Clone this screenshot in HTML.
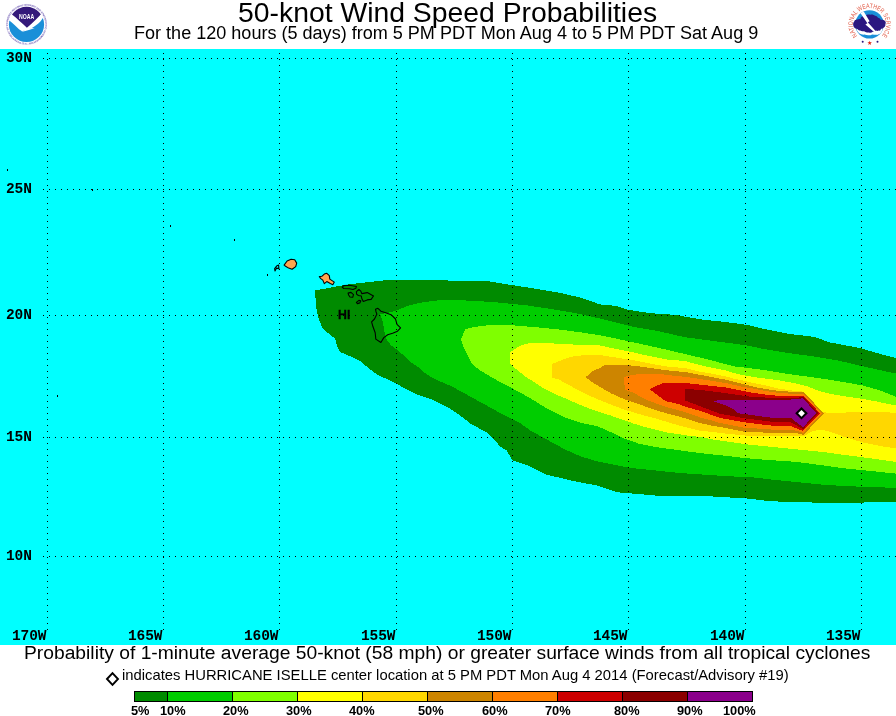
<!DOCTYPE html>
<html><head><meta charset="utf-8"><title>50-knot Wind Speed Probabilities</title>
<style>
html,body{margin:0;padding:0;background:#fff;}
body{width:896px;height:716px;position:relative;overflow:hidden;font-family:"Liberation Sans",sans-serif;color:#000;}
.t,.g,.lg{will-change:transform;}
.t{position:absolute;white-space:nowrap;line-height:1;}
#map{position:absolute;left:0;top:0;width:896px;height:716px;}
.g{position:absolute;white-space:nowrap;line-height:1;font:bold 14.5px "Liberation Mono",monospace;letter-spacing:-0.1px;}
.lg{position:absolute;white-space:nowrap;line-height:1;font:bold 12.8px "Liberation Sans",sans-serif;top:703px;}
</style></head><body>
<svg id="map" width="896" height="716" viewBox="0 0 896 716" shape-rendering="crispEdges">
<rect x="0" y="49" width="896" height="596" fill="#00FFFF"/>
<polygon points="284.1,265.1 287.1,261.0 291.1,259.2 294.7,259.8 296.7,263.1 295.7,266.6 292.1,269.3 288.6,268.1 285.6,266.3" fill="#FFA54F"/>
<polygon points="319.3,276.6 321.8,276.3 324.3,274.1 326.8,273.3 329.3,275.6 329.8,279.1 334.3,282.1 332.8,284.7 330.3,283.6 326.8,281.6 324.3,283.6 322.8,280.1 320.8,278.6" fill="#FFA54F"/>
<polygon points="315.0,290.2 325.3,288.7 335.3,286.7 343.4,285.2 350.0,284.2 369.1,282.0 388.7,279.9 400.5,279.6 425.7,279.6 450.0,280.6 488.5,281.2 512.0,285.1 533.8,288.4 558.9,292.6 580.7,297.7 600.0,304.4 616.8,306.0 628.5,309.9 650.3,313.2 675.4,314.9 700.6,319.4 725.7,322.0 748.0,325.0 762.8,328.7 787.9,333.7 814.7,337.0 829.8,342.4 861.6,348.4 876.7,353.0 896.0,358.0 896.0,501.6 876.7,502.1 861.6,502.6 814.7,502.6 771.1,501.3 747.0,498.5 721.9,497.0 696.8,495.6 680.0,496.0 655.7,495.6 638.9,494.0 617.1,492.3 597.0,485.6 571.9,480.6 546.8,474.7 530.0,466.3 520.8,463.0 512.4,460.4 506.5,450.4 500.7,447.0 495.6,441.2 487.3,432.8 470.5,423.6 458.8,414.4 447.0,406.8 433.6,400.1 418.5,395.1 401.8,386.7 390.0,380.3 378.8,375.6 370.4,369.7 360.3,361.3 350.3,356.3 340.2,352.1 337.2,346.3 335.2,338.7 330.0,334.7 322.6,328.7 319.3,320.3 316.8,311.9 315.9,303.5" fill="#008B00"/>
<polygon points="380.4,314.2 388.7,312.7 398.5,309.7 407.3,306.0 420.7,302.7 434.1,300.7 450.0,299.8 476.8,301.0 500.3,302.7 525.4,305.2 550.6,308.9 575.7,313.2 600.0,318.6 616.8,322.8 633.5,327.0 658.7,331.2 683.8,337.0 708.9,340.4 734.1,343.7 748.0,345.6 762.8,348.8 787.9,353.0 813.0,356.3 838.2,360.5 863.3,366.4 880.1,370.2 896.0,373.5 896.0,487.9 871.7,487.0 846.6,486.2 821.4,484.5 796.3,482.0 771.1,479.5 750.0,477.0 730.3,476.4 705.1,474.7 680.0,473.0 655.7,470.5 630.6,468.0 613.8,464.6 597.0,461.3 580.3,456.3 563.5,448.7 546.8,439.5 530.0,430.3 520.8,423.6 505.7,416.0 488.9,406.8 472.2,397.6 455.4,388.4 450.0,385.6 444.1,383.1 434.1,378.9 424.0,372.2 417.3,366.4 410.6,362.2 403.9,355.5 393.8,347.1 390.6,345.0 386.2,338.6 384.8,333.7 383.8,327.8 382.8,322.0" fill="#00CD00"/>
<polygon points="460.9,339.5 465.1,329.5 473.5,327.0 490.2,325.0 512.0,325.3 533.8,327.0 558.9,329.5 584.1,332.8 600.0,335.4 616.8,338.7 633.5,342.4 658.7,347.9 683.8,353.8 708.9,359.7 734.1,366.4 748.0,368.0 762.8,369.8 779.5,372.6 796.3,375.2 813.0,377.3 829.8,379.8 846.6,382.6 863.3,385.6 880.0,390.5 896.0,396.8 896.0,473.6 871.7,471.1 846.6,468.6 821.4,465.2 796.3,461.9 771.1,460.2 746.0,458.2 730.3,456.3 705.1,453.7 680.0,450.4 655.7,447.0 638.9,443.7 622.2,437.8 610.4,431.9 597.0,426.1 580.3,422.7 563.5,416.9 546.8,408.5 530.0,398.0 512.4,388.4 503.6,384.0 491.9,377.3 480.2,370.6 471.8,363.9 468.4,357.1 463.4,347.1" fill="#7FFF00"/>
<polygon points="509.5,353.0 517.0,347.4 525.4,343.7 537.1,342.9 558.9,343.7 584.1,345.1 600.0,345.5 611.2,347.9 622.3,350.1 633.5,352.3 644.6,355.1 655.8,357.3 667.0,359.6 685.0,361.0 700.0,365.1 711.2,367.6 725.0,370.2 733.5,373.0 744.6,375.5 755.8,377.3 767.0,378.8 778.1,380.2 789.3,382.2 800.0,384.4 807.0,386.2 818.0,390.6 829.6,393.8 843.0,396.1 861.8,398.8 876.6,401.5 896.0,405.5 896.0,461.9 871.7,458.5 846.6,455.2 821.4,451.8 796.3,449.3 771.1,446.8 746.0,444.3 730.3,442.0 713.5,439.5 700.0,436.9 689.3,435.8 678.1,434.1 667.0,432.5 655.8,429.7 644.6,426.9 633.5,423.5 622.3,419.6 611.2,415.7 600.0,412.2 589.3,408.5 578.1,404.1 567.0,399.1 555.8,394.6 544.6,389.0 533.5,381.8 525.7,376.7 516.7,369.5 510.6,364.5" fill="#FFFF00"/>
<polygon points="552.2,363.9 562.0,360.0 570.7,356.8 584.1,355.1 600.0,355.0 611.2,356.8 622.3,358.5 633.5,360.1 644.6,362.4 655.8,364.6 667.0,366.5 685.0,368.1 700.0,371.8 711.2,373.5 725.0,376.2 733.5,378.5 744.6,380.9 755.8,383.5 767.0,385.7 778.1,388.5 789.3,390.2 803.6,391.7 822.0,411.5 829.3,413.5 836.3,413.2 849.7,412.2 869.9,412.2 896.0,412.6 896.0,448.5 880.1,446.0 863.3,442.6 846.6,437.6 829.8,431.7 821.4,429.7 813.0,430.9 804.0,436.0 780.0,436.0 745.0,435.5 720.0,433.0 713.7,432.0 700.0,430.8 689.3,428.0 678.1,425.2 667.0,421.9 655.8,418.5 644.6,415.7 633.5,412.4 622.3,409.0 611.2,404.6 600.0,400.2 589.3,395.7 578.1,390.1 567.0,384.0 558.0,379.0 552.2,377.9" fill="#FFD700"/>
<polygon points="585.4,377.3 592.5,371.4 600.0,367.8 605.0,365.2 627.9,365.2 639.0,366.3 650.2,367.9 661.4,369.6 672.5,371.0 685.0,372.0 700.0,374.8 725.0,379.6 744.6,384.4 755.8,387.2 767.0,389.3 780.0,391.0 795.0,392.0 803.6,392.2 823.9,413.3 803.5,434.9 796.0,433.1 775.0,433.0 745.0,431.8 720.0,427.0 713.7,426.0 700.0,423.0 689.3,419.6 678.1,416.3 667.0,413.5 655.8,410.1 644.6,406.2 633.5,402.3 622.3,398.4 611.2,393.4 600.0,387.0 592.6,382.3" fill="#CD8500"/>
<polygon points="623.5,377.3 633.5,374.6 644.6,374.1 661.4,374.1 672.5,375.6 685.0,376.8 700.0,379.0 725.0,382.9 744.6,387.2 755.8,389.0 767.0,391.3 780.0,393.0 795.0,393.9 803.6,394.0 821.8,413.2 803.3,432.9 794.0,430.1 775.0,430.0 768.0,429.2 745.0,427.8 720.0,423.0 713.7,421.0 700.0,417.4 689.3,413.5 678.1,410.1 667.0,407.3 655.8,403.4 644.6,399.0 633.5,392.8 625.1,390.0" fill="#FF7F00"/>
<polygon points="649.7,389.2 662.5,383.1 678.1,382.6 685.0,382.9 700.0,384.6 725.0,387.4 750.0,392.3 767.9,395.0 780.0,395.9 803.6,395.9 820.0,413.2 803.0,431.0 791.0,426.1 775.0,426.0 768.0,425.2 745.0,422.4 720.0,418.0 700.0,410.7 689.3,407.9 678.1,404.0 665.8,401.2 658.0,395.6" fill="#CD0000"/>
<polygon points="685.2,389.0 700.0,389.9 725.0,393.0 750.0,396.6 770.0,397.8 795.0,397.9 803.5,397.0 818.3,413.2 803.0,429.1 790.5,422.1 775.0,422.0 768.0,421.3 745.0,418.4 720.0,413.7 708.8,409.6 700.0,406.2 685.4,400.6" fill="#8B0000"/>
<polygon points="713.4,401.3 721.0,399.6 745.0,399.8 791.0,399.8 792.0,399.0 803.0,398.4 816.4,413.2 803.0,427.2 791.0,418.1 775.0,418.0 768.0,417.3 756.7,415.7 745.0,414.1 738.2,413.3 733.3,409.3 725.9,405.6" fill="#8B008B"/>
<g fill="none" stroke="#000" stroke-width="1.1" shape-rendering="auto" stroke-linejoin="round">
<polygon points="284.1,265.1 287.1,261.0 291.1,259.2 294.7,259.8 296.7,263.1 295.7,266.6 292.1,269.3 288.6,268.1 285.6,266.3"/>
<polygon points="274.6,268.6 276.6,266.1 278.6,265.1 278.9,268.6 276.6,268.1 275.0,271.0"/>
<polygon points="319.3,276.6 321.8,276.3 324.3,274.1 326.8,273.3 329.3,275.6 329.8,279.1 334.3,282.1 332.8,284.7 330.3,283.6 326.8,281.6 324.3,283.6 322.8,280.1 320.8,278.6"/>
<polygon points="342.2,287.2 343.7,285.6 349.6,285.3 356.4,286.5 355.9,288.2 353.0,289.5 349.6,288.7 343.7,288.5"/>
<polygon points="348.1,293.1 351.0,292.4 353.5,294.6 352.7,297.3 350.0,297.0 348.6,295.0"/>
<polygon points="356.4,291.6 358.9,289.5 360.8,291.1 361.8,293.6 367.2,292.6 373.5,296.0 371.1,299.4 367.2,299.9 363.3,301.4 361.8,298.5 361.3,296.0 358.4,295.5 356.6,294.1"/>
<polygon points="356.4,302.4 358.9,300.4 360.8,300.9 359.8,302.9 357.4,303.6"/>
<polygon points="375.5,309.2 377.9,308.3 380.9,311.2 385.7,312.7 391.6,315.1 395.5,319.0 397.0,324.4 400.6,327.8 397.5,331.2 392.6,333.2 387.7,334.7 383.8,337.6 380.9,342.5 375.8,339.1 375.2,332.7 373.0,326.8 371.6,321.9 374.5,319.0 376.9,314.1 376.0,311.7"/>
</g>
<rect x="7" y="169" width="1" height="2" fill="#000"/>
<rect x="57" y="395" width="1" height="2" fill="#000"/>
<rect x="234" y="239" width="1" height="2" fill="#000"/>
<rect x="170" y="225" width="1" height="2" fill="#000"/>
<rect x="267" y="274" width="1" height="2" fill="#000"/>
<rect x="92" y="189" width="1" height="2" fill="#000"/>
<g stroke="#000" stroke-width="1" fill="none">
<line x1="43" y1="58.5" x2="896" y2="58.5" stroke-dasharray="1 5"/>
<line x1="43" y1="189.5" x2="896" y2="189.5" stroke-dasharray="1 5"/>
<line x1="43" y1="315.5" x2="896" y2="315.5" stroke-dasharray="1 5"/>
<line x1="43" y1="437.5" x2="896" y2="437.5" stroke-dasharray="1 5"/>
<line x1="43" y1="556.5" x2="896" y2="556.5" stroke-dasharray="1 5"/>
<line x1="47.5" y1="53" x2="47.5" y2="630" stroke-dasharray="1 5"/>
<line x1="163.5" y1="53" x2="163.5" y2="630" stroke-dasharray="1 5"/>
<line x1="279.5" y1="53" x2="279.5" y2="630" stroke-dasharray="1 5"/>
<line x1="396.5" y1="53" x2="396.5" y2="630" stroke-dasharray="1 5"/>
<line x1="512.5" y1="53" x2="512.5" y2="630" stroke-dasharray="1 5"/>
<line x1="628.5" y1="53" x2="628.5" y2="630" stroke-dasharray="1 5"/>
<line x1="745.5" y1="53" x2="745.5" y2="630" stroke-dasharray="1 5"/>
<line x1="861.5" y1="53" x2="861.5" y2="630" stroke-dasharray="1 5"/>
</g>
<polygon points="795.2,413.3 801.5,407.0 807.8,413.3 801.5,419.6" fill="#000" shape-rendering="auto"/>
<polygon points="798.1,413.3 801.5,409.90000000000003 804.9,413.3 801.5,416.7" fill="#fff" shape-rendering="auto"/>
<polygon points="107.0,679 112.5,673.2 118.0,679 112.5,684.8" fill="#fff" stroke="#000" stroke-width="1.9" shape-rendering="auto"/>
<rect x="134" y="691" width="33" height="11" fill="#008B00"/>
<rect x="167" y="691" width="65" height="11" fill="#00CD00"/>
<rect x="232" y="691" width="65" height="11" fill="#7FFF00"/>
<rect x="297" y="691" width="65" height="11" fill="#FFFF00"/>
<rect x="362" y="691" width="65" height="11" fill="#FFD700"/>
<rect x="427" y="691" width="65" height="11" fill="#CD8500"/>
<rect x="492" y="691" width="65" height="11" fill="#FF7F00"/>
<rect x="557" y="691" width="65" height="11" fill="#CD0000"/>
<rect x="622" y="691" width="65" height="11" fill="#8B0000"/>
<rect x="687" y="691" width="66" height="11" fill="#8B008B"/>
<g stroke="#000" stroke-width="1" fill="none">
<rect x="134.5" y="691.5" width="618" height="10"/>
<line x1="167.5" y1="691" x2="167.5" y2="702"/>
<line x1="232.5" y1="691" x2="232.5" y2="702"/>
<line x1="297.5" y1="691" x2="297.5" y2="702"/>
<line x1="362.5" y1="691" x2="362.5" y2="702"/>
<line x1="427.5" y1="691" x2="427.5" y2="702"/>
<line x1="492.5" y1="691" x2="492.5" y2="702"/>
<line x1="557.5" y1="691" x2="557.5" y2="702"/>
<line x1="622.5" y1="691" x2="622.5" y2="702"/>
<line x1="687.5" y1="691" x2="687.5" y2="702"/>
</g>
</svg>
<div class="t" style="left:338px;top:307.5px;font:bold 12.3px 'Liberation Sans',sans-serif;-webkit-text-stroke:0.3px #000;">HI</div>
<div class="g" style="left:5.5px;top:50px;">30N</div>
<div class="g" style="left:5.5px;top:181px;">25N</div>
<div class="g" style="left:5.5px;top:307px;">20N</div>
<div class="g" style="left:5.5px;top:429px;">15N</div>
<div class="g" style="left:5.5px;top:548px;">10N</div>
<div class="g" style="left:12.299999999999997px;top:627.5px;">170W</div>
<div class="g" style="left:128.3px;top:627.5px;">165W</div>
<div class="g" style="left:244.3px;top:627.5px;">160W</div>
<div class="g" style="left:361.3px;top:627.5px;">155W</div>
<div class="g" style="left:477.3px;top:627.5px;">150W</div>
<div class="g" style="left:593.3px;top:627.5px;">145W</div>
<div class="g" style="left:710.3px;top:627.5px;">140W</div>
<div class="g" style="left:826.3px;top:627.5px;">135W</div>
<div class="t" id="t1" style="left:237.5px;top:-2px;font-size:28.35px;">50-knot Wind Speed Probabilities</div>
<div class="t" id="t2" style="left:134px;top:24px;font-size:18.06px;">For the 120 hours (5 days) from 5 PM PDT Mon Aug 4 to 5 PM PDT Sat Aug 9</div>
<div class="t" id="t3" style="left:24px;top:643px;font-size:19.25px;">Probability of 1-minute average 50-knot (58 mph) or greater surface winds from all tropical cyclones</div>
<div class="t" id="t4" style="left:122px;top:668px;font-size:14.8px;">indicates HURRICANE ISELLE center location at 5 PM PDT Mon Aug 4 2014 (Forecast/Advisory #19)</div>
<div class="lg" style="left:130.5px;">5%</div>
<div class="lg" style="left:160.3px;">10%</div>
<div class="lg" style="left:222.6px;">20%</div>
<div class="lg" style="left:285.5px;">30%</div>
<div class="lg" style="left:348.5px;">40%</div>
<div class="lg" style="left:418.3px;">50%</div>
<div class="lg" style="left:481.5px;">60%</div>
<div class="lg" style="left:545px;">70%</div>
<div class="lg" style="left:614px;">80%</div>
<div class="lg" style="left:676.5px;">90%</div>
<div class="lg" style="left:722.5px;">100%</div>
<svg style="position:absolute;left:0;top:0;will-change:transform" width="60" height="49" viewBox="0 0 60 49">
<defs><clipPath id="nc"><circle cx="26.5" cy="24.4" r="17.6"/></clipPath></defs>
<circle cx="26.5" cy="24.4" r="20" fill="#fdfcff" stroke="#cfc6e6" stroke-width="0.6"/>
<path id="nring" d="M 26.5,43 A 18.6 18.6 0 1 1 26.6,43" fill="none"/>
<text font-family="'Liberation Sans',sans-serif" font-size="2.3" font-weight="bold" fill="#6d5bb0" textLength="114" lengthAdjust="spacing"><textPath href="#nring">U.S. DEPARTMENT OF COMMERCE  NATIONAL OCEANIC AND ATMOSPHERIC ADMINISTRATION</textPath></text>
<circle cx="26.5" cy="24.4" r="17.6" fill="#ffffff"/>
<g clip-path="url(#nc)">
<path d="M5,18.5 L9.1,20.6 C14,23.5 18,29.6 22,31.3 L28.2,29.4 C34.5,27.6 40.5,22.5 43.2,17.6 L50,18 L50,46 L5,46 Z" fill="#1a8fd8"/>
<path d="M12,14.6 L8,4 L46,4 L41.6,13.6 C38,17.5 33,23 26.9,27.8 C22,23.5 17,18.5 12,14.6 Z" fill="#34197a"/>
<path d="M21.2,31.9 C24,30.6 26,29.3 27.6,28.2 L34.6,27.9 C31.5,29.2 27,30.6 21.2,31.9 Z" fill="#ffffff"/>
</g>
<text x="26.6" y="19.3" text-anchor="middle" font-family="'Liberation Sans',sans-serif" font-weight="bold" font-size="6.6" fill="#ffffff" textLength="15.2" lengthAdjust="spacingAndGlyphs">NOAA</text>
</svg>
<svg style="position:absolute;left:840px;top:0;will-change:transform" width="56" height="49" viewBox="840 0 56 49">
<defs>
<clipPath id="wc"><circle cx="869.5" cy="24.4" r="14.2"/></clipPath>
<path id="ring" d="M 857.2,35.8 A 16.6 16.6 0 1 1 881.8,35.8"/>
</defs>
<circle cx="869.5" cy="24.4" r="14.2" fill="#1a8fd8"/>
<g clip-path="url(#wc)">
<path d="M856.4,28 C857,33 861,35 864.5,34.6 C867,35.6 870.5,35.4 872.5,34.4 C875,35 878,35 879.5,34 C881.5,33 882.5,31 882.8,28 Z" fill="#ffffff"/>
</g>
<path d="M853.6,26.5 C852.8,24.5 853,22.5 854.2,21.4 C854.6,20 856.5,19.2 857.6,19.6 C858.4,18.8 859.6,18.8 860.4,19.2 C860.4,17.6 861.4,16.6 862.4,16.6 C863,15.6 864.4,15.2 865.4,15.6 C866.6,14.6 869,14.4 870.4,14.8 C872,14.2 874,15 875,15.8 C876.6,16 877.8,17 878,17.8 C879.4,18 880.6,19 880.8,20 C882.4,19.6 884,20.2 884.4,20.6 C885.8,21.2 886.2,23 885.4,24.2 C885.6,26 884.6,27.4 883.4,27.8 C883,28.8 882,29 881,28.8 C880.8,30.2 879.8,31 878.6,30.6 C877.8,31.2 876.6,31 876,30.6 C875,31.8 873.6,32 872.8,31.8 C871.6,32.8 869.8,32.8 869,32.4 C867.4,32.6 865.2,32 864.2,31.2 C862.8,31.4 861,31.2 860.2,30.6 C859,30.4 857.8,29.8 857.4,29 C856,28.8 854.8,28.4 854.6,27.8 C854,27.6 853.6,27 853.6,26.5 Z" fill="#2b1780"/>
<g clip-path="url(#wc)">
<path d="M860.2,12.8 L863.6,11.2 L869.6,21.2 L867.8,22.2 L878.2,34 L877.2,34.8 L865.4,24.4 L867.4,23.2 Z" fill="#ffffff"/>
</g>
<text font-family="'Liberation Sans',sans-serif" font-size="6.6" fill="#e25a45" textLength="76" lengthAdjust="spacingAndGlyphs"><textPath href="#ring">NATIONAL WEATHER SERVICE</textPath></text>
<circle cx="862.7" cy="41.7" r="1" fill="#2b1780"/>
<circle cx="877.5" cy="41.7" r="1" fill="#2b1780"/>
<text x="869.7" y="44.6" text-anchor="middle" font-family="'DejaVu Sans',sans-serif" font-size="6" fill="#dd2211">★</text>
</svg>
</body></html>
